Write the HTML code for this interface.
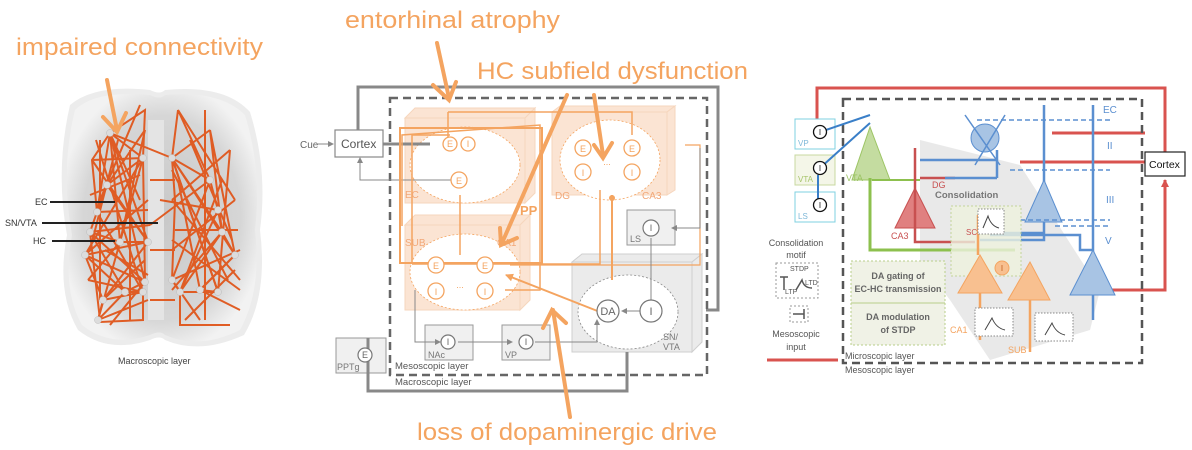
<!DOCTYPE html>
<html><head><meta charset="utf-8"><style>
html,body{margin:0;padding:0;background:#fff;}
svg{display:block;}
text{font-family:"Liberation Sans",sans-serif;}
</style></head><body>
<svg width="1192" height="450" viewBox="0 0 1192 450" xmlns="http://www.w3.org/2000/svg">
<defs>
<radialGradient id="bg" cx="50%" cy="50%" r="55%"><stop offset="0" stop-color="#c8c8c8"/><stop offset="0.75" stop-color="#d6d6d6"/><stop offset="1" stop-color="#f2f2f2"/></radialGradient>
<marker id="ag" markerUnits="userSpaceOnUse" markerWidth="6" markerHeight="6" refX="5" refY="3" orient="auto"><path d="M0,0 L6,3 L0,6z" fill="#888"/></marker>
<marker id="ao" markerUnits="userSpaceOnUse" markerWidth="8" markerHeight="8" refX="7" refY="4" orient="auto"><path d="M0,0 L8,4 L0,8z" fill="#f4a460"/></marker>
<marker id="ar" markerUnits="userSpaceOnUse" markerWidth="8" markerHeight="8" refX="7" refY="4" orient="auto"><path d="M0,0 L8,4 L0,8z" fill="#d9534f"/></marker>
</defs>

<!-- ===== Left: brain ===== -->
<path d="M70,105 Q95,84 150,90 Q160,95 165,90 Q225,84 250,112 Q268,170 260,230 Q268,295 244,335 Q200,355 165,340 Q160,335 150,340 Q108,354 78,330 Q56,292 67,235 Q55,170 70,105z" fill="#ececec"/>
<path d="M75,110 Q95,90 150,95 Q160,100 165,95 Q220,90 245,115 Q262,170 255,230 Q262,290 240,330 Q200,350 165,335 Q160,330 150,335 Q110,348 82,325 Q62,290 72,235 Q60,170 75,110z" fill="url(#bg)"/>
<rect x="148" y="120" width="16" height="200" fill="#e4e4e4"/>
<g stroke="#e0561b" stroke-width="2" fill="none" opacity="0.95">
<path d="M110,133 L143,158 L107,185 L97,212 L90,232 L120,242 L148,242 L85,255 L145,282 L125,292 L143,292 L103,300 L98,320 L125,292"/>
<path d="M110,133 L148,242 M110,133 L120,242 M110,133 L97,212 M110,133 L172,158 M110,133 L145,110 L143,158 M143,158 L145,282 M143,158 L85,255 M107,185 L148,242 M97,212 L143,292 M90,232 L145,282 M85,255 L103,300 M120,242 L98,320 M148,242 L103,300 M107,185 L145,130 M97,212 L148,210 M90,232 L150,225 M85,255 L125,292 M143,292 L143,320 L100,322 M100,140 L100,300 M130,150 L130,320 M118,140 L90,250"/>
<path d="M110,133 L92,160 L97,212 M92,160 L143,158 M92,160 L148,242 M110,133 L140,200 M96,140 L143,292 M140,105 L100,200 M120,242 L145,130 M85,255 L148,200 M90,232 L100,320 M98,320 L148,300 M103,300 L145,260 M125,292 L90,232 M145,282 L110,133 M88,280 L143,292 M88,280 L120,242 M110,325 L145,282 M90,195 L140,175 M105,250 L148,275 M143,158 L120,242"/>
<path d="M172,158 L210,180 L218,210 L222,232 L235,255 L200,290 L218,292 L180,292 L172,280 L175,200 L172,158"/>
<path d="M172,158 L235,255 M172,158 L218,292 M172,158 L222,232 M178,110 L210,180 M178,110 L172,158 M210,180 L172,280 M218,210 L180,292 M222,232 L172,290 M235,255 L200,290 M210,180 L150,225 M218,210 L160,200 M180,292 L180,325 L230,325 M200,290 L240,310 M205,110 L205,320 M190,140 L232,240 M172,250 L235,200 M150,300 L175,300 M150,180 L175,180 M150,250 L175,250"/>
<path d="M210,130 L172,158 M210,130 L222,232 M210,130 L235,255 M230,150 L172,200 M230,150 L218,292 M178,110 L235,200 M172,200 L240,280 M175,230 L238,230 M172,280 L240,250 M180,292 L222,232 M218,292 L172,158 M200,290 L178,180 M240,290 L172,240 M185,320 L235,270 M200,320 L172,280 M222,180 L180,292 M172,170 L228,280"/>
</g>
<g fill="#dcdcdc" stroke="#bbb" stroke-width="0.5">
<circle cx="110" cy="133" r="3.5"/><circle cx="143" cy="158" r="3.5"/><circle cx="107" cy="185" r="3.5"/><circle cx="97" cy="212" r="3.5"/><circle cx="90" cy="232" r="3.5"/><circle cx="120" cy="242" r="3.5"/><circle cx="148" cy="242" r="3.5"/><circle cx="85" cy="255" r="3.5"/><circle cx="145" cy="282" r="3.5"/><circle cx="125" cy="292" r="3.5"/><circle cx="143" cy="292" r="3.5"/><circle cx="103" cy="300" r="3.5"/><circle cx="98" cy="320" r="3.5"/>
<circle cx="172" cy="158" r="3.5"/><circle cx="210" cy="180" r="3.5"/><circle cx="218" cy="210" r="3.5"/><circle cx="222" cy="232" r="3.5"/><circle cx="235" cy="255" r="3.5"/><circle cx="200" cy="290" r="3.5"/><circle cx="218" cy="292" r="3.5"/><circle cx="180" cy="292" r="3.5"/><circle cx="172" cy="280" r="3.5"/>
</g>
<g stroke="#222" stroke-width="2"><line x1="50" y1="202" x2="115" y2="202"/><line x1="42" y1="223" x2="158" y2="223"/><line x1="52" y1="241" x2="115" y2="241"/></g>
<g font-size="9" fill="#333"><text x="35" y="205">EC</text><text x="5" y="226">SN/VTA</text><text x="33" y="244">HC</text></g>
<text x="118" y="364" font-size="9" fill="#444">Macroscopic layer</text>

<!-- ===== Middle diagram ===== -->
<g fill="#fbe0cc" stroke="#f5cfb2" stroke-width="1" opacity="0.85">
<rect x="405" y="118" width="120" height="85"/><polygon points="405,118 415,108 535,108 525,118"/><polygon points="525,118 535,108 535,193 525,203"/>
<rect x="552" y="112" width="115" height="83"/><polygon points="552,112 560,106 675,106 667,112"/><polygon points="667,112 675,106 675,190 667,195"/>
<rect x="405" y="225" width="115" height="85"/><polygon points="405,225 415,215 530,215 520,225"/><polygon points="520,225 530,215 530,300 520,310"/>
</g>
<g fill="#ebebeb" stroke="#cfcfcf" stroke-width="1">
<rect x="572" y="262" width="120" height="90"/><polygon points="572,262 582,254 702,254 692,262"/><polygon points="692,262 702,254 702,342 692,352"/>
<rect x="627" y="210" width="48" height="35" fill="#f0f0f0" stroke="#999"/>
<rect x="425" y="325" width="48" height="35" fill="#f0f0f0" stroke="#999"/>
<rect x="502" y="325" width="48" height="35" fill="#f0f0f0" stroke="#999"/>
<rect x="336" y="338" width="50" height="35" fill="#f0f0f0" stroke="#999"/>
</g>
<g fill="#fff" stroke="#f4a460" stroke-width="0.8" stroke-dasharray="2,2">
<ellipse cx="465" cy="165" rx="55" ry="38"/><ellipse cx="610" cy="160" rx="50" ry="40"/><ellipse cx="465" cy="272" rx="55" ry="38"/>
</g>
<ellipse cx="628" cy="312" rx="50" ry="37" fill="#fff" stroke="#888" stroke-width="0.8" stroke-dasharray="2,2"/>
<g stroke="#888" stroke-width="3" fill="none">
<path d="M358,132 L358,87 L718,87 L718,310 L706,310"/>
<path d="M368,338 L368,391 L627,391 L627,352"/>
</g>
<rect x="390" y="98" width="317" height="277" fill="none" stroke="#666" stroke-width="2.5" stroke-dasharray="8,5"/>
<rect x="335" y="130" width="48" height="27" fill="#fff" stroke="#888" stroke-width="1.2"/>
<text x="341" y="148" font-size="12" fill="#555">Cortex</text>
<text x="300" y="148" font-size="10" fill="#666">Cue</text>
<line x1="318" y1="144" x2="333" y2="144" stroke="#888" stroke-width="1" marker-end="url(#ag)"/>
<line x1="383" y1="144" x2="430" y2="144" stroke="#888" stroke-width="3"/>
<path d="M460,180 L360,180 L360,158" stroke="#888" stroke-width="1" fill="none" marker-end="url(#ag)"/>
<g stroke="#f4a460" fill="none" stroke-width="1.5">
<path d="M448,112 L632,112 L632,115 M448,112 L448,140 M632,112 L632,135"/>
<path d="M402,226 L402,135 L540,125 L540,290 L505,290"/>
<path d="M412,264 L600,264 L600,190 M412,264 L412,135 L450,135"/>
<path d="M460,255 L460,195"/>
<path d="M685,145 L700,145 L700,265 L510,265" stroke-width="1.2"/>
<path d="M612,280 L612,195" stroke-width="2"/>
<path d="M600,312 L506,275" stroke-width="2" marker-end="url(#ao)"/>
</g>
<rect x="400" y="128" width="142" height="135" fill="none" stroke="#f4a460" stroke-width="2"/>
<circle cx="612" cy="198" r="3" fill="#f4a460"/>
<text x="520" y="215" font-size="13" fill="#f4a460" font-weight="bold">PP</text>
<g fill="#fff" stroke="#f4a460" stroke-width="1.3">
<circle cx="450" cy="144" r="7"/><circle cx="468" cy="144" r="7"/><circle cx="459" cy="180" r="8"/>
<circle cx="583" cy="148" r="8"/><circle cx="583" cy="172" r="8"/><circle cx="632" cy="148" r="8"/><circle cx="632" cy="172" r="8"/>
<circle cx="436" cy="265" r="8"/><circle cx="436" cy="291" r="8"/><circle cx="485" cy="265" r="8"/><circle cx="485" cy="291" r="8"/>
</g>
<g font-size="9" fill="#f4a460" text-anchor="middle">
<text x="450" y="147">E</text><text x="468" y="147">I</text><text x="459" y="184">E</text>
<text x="583" y="152">E</text><text x="583" y="176">I</text><text x="632" y="152">E</text><text x="632" y="176">I</text>
<text x="436" y="269">E</text><text x="436" y="295">I</text><text x="485" y="269">E</text><text x="485" y="295">I</text>
<text x="607" y="165">...</text><text x="460" y="288">...</text>
</g>
<g font-size="10" fill="#f2a878">
<text x="405" y="198">EC</text><text x="555" y="199">DG</text><text x="642" y="199">CA3</text><text x="405" y="246">SUB</text><text x="497" y="246">CA1</text>
</g>
<g stroke="#888" fill="none" stroke-width="1">
<path d="M700,148 L700,228 L672,228" marker-end="url(#ag)"/>
<path d="M651,238 L651,305" marker-end="url(#ag)"/>
<path d="M640,311 L622,311" marker-end="url(#ag)"/>
<path d="M415,290 L415,342 L440,342" marker-end="url(#ag)"/>
<path d="M458,342 L512,342" marker-end="url(#ag)"/>
<path d="M535,342 L597,342 L597,320" marker-end="url(#ag)"/>
<path d="M367,355 L367,390"/>
</g>
<g fill="#fff" stroke="#777" stroke-width="1.2">
<circle cx="651" cy="228" r="8"/><circle cx="608" cy="311" r="11"/><circle cx="651" cy="311" r="11"/>
<circle cx="448" cy="342" r="7"/><circle cx="526" cy="342" r="7"/><circle cx="365" cy="355" r="7"/>
</g>
<g font-size="9" fill="#666" text-anchor="middle">
<text x="651" y="231">I</text><text x="608" y="315" font-size="11">DA</text><text x="651" y="315" font-size="11">I</text>
<text x="448" y="345">I</text><text x="526" y="345">I</text><text x="365" y="358">E</text>
</g>
<g font-size="9" fill="#777">
<text x="630" y="242">LS</text><text x="428" y="358">NAc</text><text x="505" y="358">VP</text><text x="337" y="370">PPTg</text>
<text x="663" y="340">SN/</text><text x="663" y="350">VTA</text>
</g>
<text x="395" y="369" font-size="9.5" fill="#555">Mesoscopic layer</text>
<text x="395" y="385" font-size="9.5" fill="#555">Macroscopic layer</text>

<!-- ===== Right diagram ===== -->
<polygon points="920,140 1020,165 1100,290 1090,330 990,360 950,300 920,260" fill="#e4e4e4" opacity="0.8"/>
<path d="M817,120 L817,88 L1165,88 L1165,152" stroke="#d9534f" stroke-width="3" fill="none"/>
<path d="M1092,290 L1165,290 L1165,180" stroke="#d9534f" stroke-width="3" fill="none" marker-end="url(#ar)"/>
<path d="M1145,133 L1052,133" stroke="#d9534f" stroke-width="3" fill="none"/>
<path d="M1145,162 L1020,162" stroke="#d9534f" stroke-width="3" fill="none"/>
<line x1="767" y1="360" x2="838" y2="360" stroke="#d9534f" stroke-width="3"/>
<rect x="843" y="99" width="299" height="264" fill="none" stroke="#555" stroke-width="2.5" stroke-dasharray="8,5"/>
<rect x="1145" y="152" width="40" height="24" fill="#fff" stroke="#222" stroke-width="1.2"/>
<text x="1149" y="168" font-size="10.5" fill="#111">Cortex</text>
<rect x="795" y="119" width="40" height="30" fill="#fff" stroke="#7fd0e0"/>
<rect x="795" y="155" width="40" height="30" fill="#f4f6e8" stroke="#c8d8a0"/>
<rect x="795" y="192" width="40" height="30" fill="#fff" stroke="#7fd0e0"/>
<g font-size="8" fill="#7fb8d8"><text x="798" y="146">VP</text><text x="798" y="182" fill="#a6c46a">VTA</text><text x="798" y="219">LS</text></g>
<g stroke="#3a7fc8" stroke-width="2" fill="none"><line x1="820" y1="132" x2="870" y2="115"/><line x1="820" y1="168" x2="870" y2="123"/><line x1="818" y1="175" x2="818" y2="205"/></g>
<g fill="#fff" stroke="#111" stroke-width="1.3"><circle cx="820" cy="132" r="6.5"/><circle cx="820" cy="168" r="6.5"/><circle cx="820" cy="205" r="6.5"/></g>
<g font-size="8" fill="#111" text-anchor="middle"><text x="820" y="135">I</text><text x="820" y="171">I</text><text x="820" y="208">I</text></g>
<polygon points="870,127 852,180 890,180" fill="#c4dca0" stroke="#9cc464"/>
<path d="M870,178 L870,250 L1015,250" stroke="#8dc04e" stroke-width="3" fill="none"/>
<line x1="872" y1="180" x2="920" y2="180" stroke="#8dc04e" stroke-width="2"/>
<text x="846" y="181" font-size="9" fill="#9cc464">VTA</text>
<polygon points="915,188 895,228 935,228" fill="#e08080" stroke="#c85050"/>
<path d="M915,148 L915,228 M915,228 L915,242 L975,242" stroke="#c85050" stroke-width="2.5" fill="none"/>
<path d="M920,178 L955,178" stroke="#c85050" stroke-width="2.5"/>
<text x="891" y="239" font-size="9" fill="#c85050">CA3</text>
<text x="932" y="188" font-size="9" fill="#c85050">DG</text>
<circle cx="985" cy="138" r="14" fill="#a8c4e4" stroke="#5b8fd0"/>
<g stroke="#5b8fd0" stroke-width="2.5" fill="none">
<path d="M920,160 L997,160 L997,178 M945,178 L997,178 M997,160 L997,150"/>
<path d="M1044,105 L1044,240 M1044,230 L1044,240 L980,240 M990,233 L1044,233"/>
<path d="M1093,105 L1093,320 M1093,250 L1080,250 L1080,235 L990,235"/>
</g>
<g stroke="#5b8fd0" stroke-width="1.5"><line x1="965" y1="115" x2="1000" y2="165"/><line x1="1005" y1="115" x2="975" y2="165"/></g>
<polygon points="1044,180 1025,222 1062,222" fill="#a8c4e4" stroke="#5b8fd0"/>
<polygon points="1093,250 1070,295 1115,295" fill="#a8c4e4" stroke="#5b8fd0"/>
<g stroke="#5b8fd0" stroke-width="1.5" stroke-dasharray="5,3"><line x1="977" y1="120" x2="1110" y2="120"/><line x1="1010" y1="170" x2="1110" y2="170"/><line x1="1020" y1="220" x2="1110" y2="220"/><line x1="1055" y1="226" x2="1110" y2="226"/></g>
<g font-size="10" fill="#5b8fd0"><text x="1103" y="113">EC</text><text x="1107" y="149">II</text><text x="1106" y="203">III</text><text x="1105" y="244">V</text></g>
<text x="935" y="198" font-size="9.5" font-weight="bold" fill="#777">Consolidation</text>
<rect x="951" y="206" width="70" height="70" fill="#eef2df" stroke="#b9cf8a" stroke-dasharray="2,2" opacity="0.8"/>
<rect x="851" y="261" width="94" height="84" fill="#f0f2e6" stroke="#b9cf8a" stroke-dasharray="2,2"/>
<line x1="851" y1="303" x2="945" y2="303" stroke="#b9cf8a"/>
<g font-size="9" font-weight="bold" fill="#666" text-anchor="middle">
<text x="898" y="279">DA gating of</text><text x="898" y="292">EC-HC transmission</text>
<text x="898" y="320">DA modulation</text><text x="898" y="333">of STDP</text>
</g>
<polygon points="980,255 958,293 1002,293" fill="#f8c090" stroke="#f4a460"/>
<polygon points="1030,262 1008,300 1050,300" fill="#f8c090" stroke="#f4a460"/>
<g stroke="#f4a460" stroke-width="2.5" fill="none"><path d="M978,215 L978,255 M980,293 L980,340 M1030,300 L1030,352"/></g>
<circle cx="1002" cy="268" r="7" fill="#f8c090" stroke="#f4a460"/>
<text x="1002" y="271" font-size="8" fill="#c06020" text-anchor="middle">I</text>
<text x="950" y="333" font-size="9" fill="#f4a460">CA1</text>
<text x="1008" y="353" font-size="9" fill="#f4a460">SUB</text>
<text x="966" y="235" font-size="8" fill="#c85050">SC</text>
<g fill="#fff" stroke="#888" stroke-dasharray="1.5,1.5"><rect x="975" y="308" width="38" height="28"/><rect x="1035" y="313" width="38" height="28"/><rect x="978" y="209" width="26" height="25"/></g>
<g stroke="#444" fill="none" stroke-width="1"><path d="M985,330 L992,318 Q996,328 1005,330"/><path d="M1045,335 L1052,323 Q1056,333 1065,335"/><path d="M983,228 L988,216 Q991,226 999,228"/></g>
<text x="796" y="246" font-size="9" fill="#555" text-anchor="middle">Consolidation</text>
<text x="796" y="258" font-size="9" fill="#555" text-anchor="middle">motif</text>
<rect x="776" y="263" width="42" height="35" fill="#fff" stroke="#999" stroke-dasharray="2,2"/>
<g font-size="7" fill="#555"><text x="790" y="271">STDP</text><text x="805" y="285">LTD</text><text x="785" y="294">LTP</text></g>
<path d="M780,277 L788,277 M784,277 L784,290 M796,290 L802,280 Q804,288 812,288" stroke="#555" stroke-width="1.5" fill="none"/>
<rect x="790" y="306" width="18" height="16" fill="#fff" stroke="#999" stroke-dasharray="2,2"/>
<path d="M793,314 L804,314 M804,309 L804,319" stroke="#555" stroke-width="1.5"/>
<text x="796" y="337" font-size="9" fill="#555" text-anchor="middle">Mesoscopic</text>
<text x="796" y="350" font-size="9" fill="#555" text-anchor="middle">input</text>
<text x="845" y="359" font-size="9" fill="#555">Microscopic layer</text>
<text x="845" y="373" font-size="9" fill="#555">Mesoscopic layer</text>

<!-- ===== orange annotations ===== -->
<g stroke="#f4a460" stroke-width="4" fill="none" stroke-linecap="round">
<line x1="107" y1="80" x2="117" y2="130"/><path d="M103,117 L117,132 L126,113"/>
<line x1="437" y1="43" x2="449" y2="98"/><path d="M433,85 L449,100 L456,82"/>
<line x1="567" y1="95" x2="502" y2="243"/><path d="M500,228 L501,245 L517,238"/>
<line x1="594" y1="95" x2="603" y2="155"/><path d="M594,145 L603,158 L612,143"/>
<line x1="570" y1="417" x2="553" y2="310"/><path d="M543,328 L552,310 L566,323"/>
</g>
<g font-size="24" fill="#f4a460">
<text x="16" y="55" textLength="247" lengthAdjust="spacingAndGlyphs">impaired connectivity</text>
<text x="345" y="28" textLength="215" lengthAdjust="spacingAndGlyphs">entorhinal atrophy</text>
<text x="477" y="79" textLength="271" lengthAdjust="spacingAndGlyphs">HC subfield dysfunction</text>
<text x="417" y="440" textLength="300" lengthAdjust="spacingAndGlyphs">loss of dopaminergic drive</text>
</g>
</svg>
</body></html>
